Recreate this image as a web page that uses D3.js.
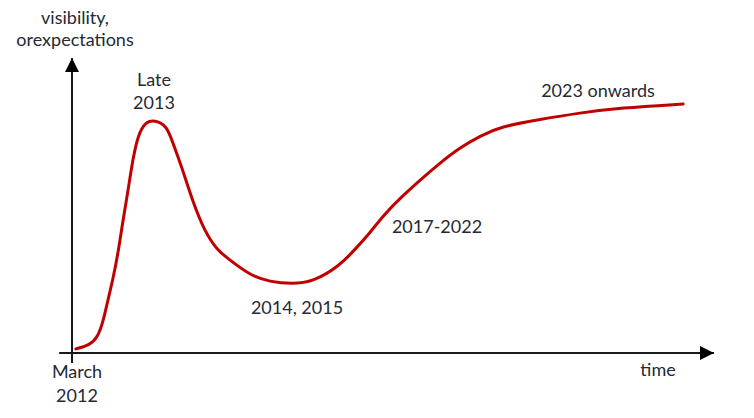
<!DOCTYPE html>
<html>
<head>
<meta charset="utf-8">
<script src="https://cdn.jsdelivr.net/npm/d3@7"></script>
<style>
  html, body { margin: 0; padding: 0; background: #fff; }
  svg { display: block; }
  text { font-family: Lato, "Open Sans", sans-serif; fill: #252a33; }
</style>
</head>
<body>
<svg id="chart" width="754" height="418"></svg>
<script>
// ---- data (time index, visibility/expectations) ----
const timeIdx = [0.6, 2.8, 4.0, 4.8, 5.6, 6.4, 7.2, 7.9, 8.7, 9.5, 10.3, 11.4, 12.9, 14.8, 15.7, 17.1, 18.7, 20.7, 22.6, 24.6, 27.7, 30.8, 34.3, 37.5, 41.7, 44.4, 46.4, 48.4, 51.1, 54.2, 57.3, 60.4, 63.6, 66.7, 72.9, 79.1, 85.4, 95.2];
const visibility = [1.4, 2.7, 5.4, 10.2, 18.0, 25.2, 34.2, 44.4, 54.6, 66.1, 73.9, 78.3, 79.0, 77.0, 71.2, 63.1, 51.9, 41.0, 34.9, 31.5, 26.4, 24.1, 23.4, 24.1, 29.5, 35.9, 40.7, 46.4, 52.5, 58.6, 64.4, 69.6, 73.6, 76.7, 79.2, 81.4, 83.1, 84.4];
const yAxisTitle = ["visibility,", "orexpectations"];
const xAxisTitle = "time";
const phaseLabels = [["March", "2012"], ["Late", "2013"], ["2014, 2015"], ["2017-2022"], ["2023 onwards"]];

// ---- layout ----
const svg = d3.select("#chart");
const x = d3.scaleLinear().domain([0, 100]).range([72, 714]);
const y = d3.scaleLinear().domain([0, 100]).range([353, 58]);

const defs = svg.append("defs");
defs.append("marker")
  .attr("id", "arrow").attr("viewBox", "0 0 10 10")
  .attr("refX", 10).attr("refY", 5)
  .attr("markerWidth", 14).attr("markerHeight", 14)
  .attr("markerUnits", "userSpaceOnUse")
  .attr("orient", "auto")
  .append("path").attr("d", "M0,0 L10,5 L0,10 Z").attr("fill", "#000");

// axes
svg.append("line")
  .attr("x1", x(-2)).attr("y1", y(0)).attr("x2", x(100)).attr("y2", y(0))
  .attr("stroke", "#1a1a1a").attr("stroke-width", 2).attr("marker-end", "url(#arrow)");
svg.append("line")
  .attr("x1", x(0)).attr("y1", y(-3.4)).attr("x2", x(0)).attr("y2", y(100))
  .attr("stroke", "#1a1a1a").attr("stroke-width", 2).attr("marker-end", "url(#arrow)");

// curve
const pts = timeIdx.map((t, i) => [t, visibility[i]]);
svg.append("path")
  .datum(pts)
  .attr("fill", "none")
  .attr("stroke", "#c00000")
  .attr("stroke-width", 3)
  .attr("stroke-linecap", "round")
  .attr("d", d3.line().x(d => x(d[0])).y(d => y(d[1])).curve(d3.curveBasis));

// text helpers
const fs = 18;
function multi(lines, px, py, lh, anchor) {
  const t = svg.append("text").attr("x", px).attr("y", py)
    .attr("text-anchor", anchor || "middle").attr("font-size", fs);
  lines.forEach((l, i) => t.append("tspan").attr("x", px).attr("dy", i ? lh : 0).text(l));
}

multi(yAxisTitle, 75, 24, 22);
svg.append("text").attr("x", 658).attr("y", 376).attr("text-anchor", "middle")
  .attr("font-size", fs).text(xAxisTitle);

const labelPos = [[77, 378, 24], [154, 86, 23], [297, 314, 0], [437, 233, 0], [598, 97, 0]];
phaseLabels.forEach((lines, i) => {
  const p = labelPos[i];
  multi(lines, p[0], p[1], p[2]);
});
</script>
</body>
</html>
